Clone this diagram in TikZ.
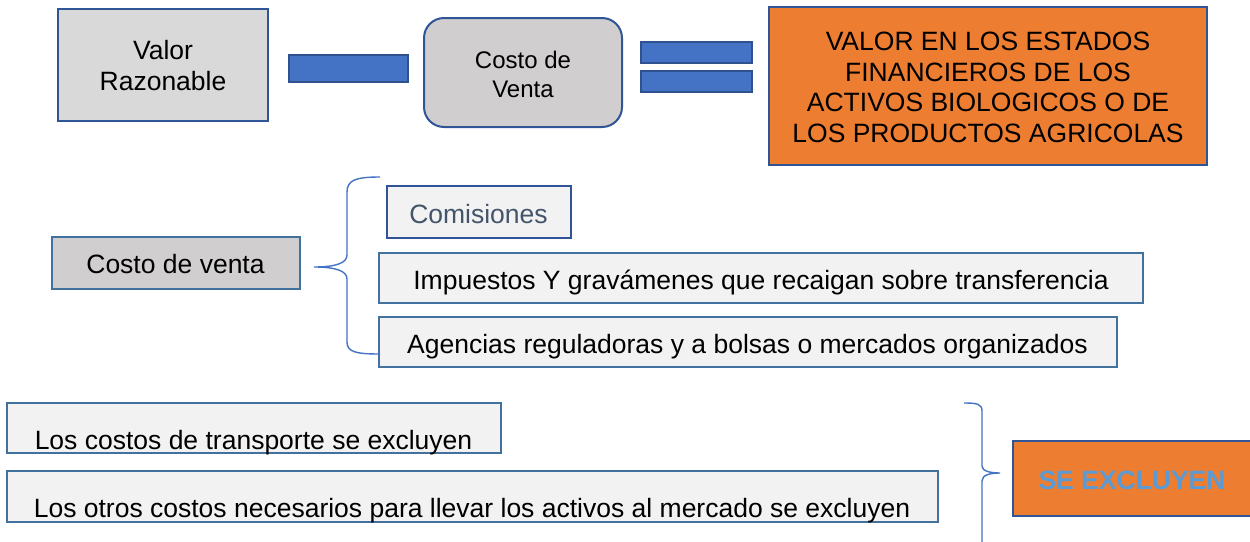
\documentclass[tikz,border=0pt]{standalone}
\usepackage{fontspec}
\setmainfont{Liberation Sans}
\definecolor{darkline}{HTML}{2F5597}
\definecolor{lightline}{HTML}{41719C}
\definecolor{barfill}{HTML}{4472C4}
\definecolor{barline}{HTML}{2F528F}
\definecolor{grayA}{HTML}{D9D9D9}
\definecolor{grayB}{HTML}{D0CECE}
\definecolor{paleF}{HTML}{F2F2F2}
\definecolor{orangeF}{HTML}{ED7D31}
\definecolor{slateT}{HTML}{44546A}
\definecolor{skyT}{HTML}{5B9BD5}
\definecolor{braceC}{HTML}{4472C4}
\tikzset{
  boxbase/.style={draw, rectangle, inner sep=0pt, outer sep=0pt},
  darkbox/.style={boxbase, draw=darkline, line width=2pt},
  lightbox/.style={boxbase, draw=lightline, line width=1.8pt, fill=paleF},
  barbox/.style={boxbase, draw=barline, line width=1.5pt, fill=barfill},
  txt/.style={anchor=base, inner sep=0pt, outer sep=0pt, font=\fontsize{26.5}{31}\selectfont},
  txtsmall/.style={txt, font=\fontsize{24}{29}\selectfont},
  bracestyle/.style={draw=braceC, line width=1.4pt}
}
\begin{document}
\begin{tikzpicture}[x=1pt,y=-1pt]
\useasboundingbox (0,0) rectangle (1250,541);
\clip (0,0) rectangle (1250,541);

% ---- top row ----
\node[darkbox, fill=grayA, minimum width=210pt, minimum height=112pt] (valor) at (163,65) {};
\node[txt] (valorA) at (163,59) {Valor};
\node[txt] (valorB) at (163,90) {Razonable};

\node[barbox, minimum width=119pt, minimum height=27pt] (minus) at (348.5,68.5) {};

\node[darkbox, fill=grayB, rounded corners=20pt, minimum width=198pt, minimum height=109pt] (costo) at (523,72.5) {};
\node[txtsmall] (costoA) at (523,68) {Costo de};
\node[txtsmall] (costoB) at (523,97) {Venta};

\node[barbox, minimum width=111pt, minimum height=21pt] (eqA) at (696.5,52.5) {};
\node[barbox, minimum width=111pt, minimum height=21pt] (eqB) at (696.5,81.5) {};

\node[darkbox, fill=orangeF, minimum width=438pt, minimum height=158pt] (valorEF) at (988,86) {};
\node[txt] (efA) at (988,50) {VALOR EN LOS ESTADOS};
\node[txt] (efB) at (988,81) {FINANCIEROS DE LOS};
\node[txt] (efC) at (988,111) {ACTIVOS BIOLOGICOS O DE};
\node[txt] (efD) at (988,142) {LOS PRODUCTOS AGRICOLAS};

% ---- middle ----
\node[boxbase, draw=lightline, line width=1.8pt, fill=grayB, minimum width=248pt, minimum height=52pt] (cv) at (176,263) {};
\node[txt] (cvT) at (175.5,273) {Costo de venta};

\node[lightbox, draw=darkline, line width=2pt, minimum width=184pt, minimum height=52pt] (com) at (479,212) {};
\node[txt, text=slateT] (comT) at (478.5,223) {Comisiones};

\node[lightbox, minimum width=764pt, minimum height=50pt] (imp) at (761,278) {};
\node[txt] (impT) at (761,289) {Impuestos Y gravámenes que recaigan sobre transferencia};

\node[lightbox, minimum width=738pt, minimum height=50pt] (age) at (748,342) {};
\node[txt] (ageT) at (747.5,353) {Agencias reguladoras y a bolsas o mercados organizados};

\coordinate (b1top) at (380,177);
\coordinate (b1tip) at (314,267);
\coordinate (b1bot) at (380,354);
\draw[bracestyle] (b1top) .. controls (356,177) and (347,180) .. (347,192)
  -- (347,255) .. controls (347,263) and (336,267) .. (b1tip)
  .. controls (336,267) and (347,271) .. (347,279)
  -- (347,342) .. controls (347,352) and (356,354) .. (b1bot);

% ---- bottom ----
\node[lightbox, minimum width=494pt, minimum height=50pt] (trans) at (254,428) {};
\node[txt] (transT) at (253.5,449) {Los costos de transporte se excluyen};

\node[lightbox, minimum width=931pt, minimum height=51pt] (otros) at (472.5,496.5) {};
\node[txt] (otrosT) at (472,517) {Los otros costos necesarios para llevar los activos al mercado se excluyen};

\coordinate (b2top) at (964,403);
\coordinate (b2tip) at (1000,473);
\coordinate (b2bot) at (982,548);
\draw[bracestyle] (b2top) .. controls (977,403) and (982,404) .. (982,411)
  -- (982,466) .. controls (982,471) and (990,473) .. (b2tip)
  .. controls (990,473) and (982,475) .. (982,481)
  -- (b2bot);

\node[darkbox, fill=orangeF, minimum width=238pt, minimum height=75pt] (excl) at (1132,478.5) {};
\node[txt, text=skyT, font=\fontsize{26.5}{31}\selectfont\bfseries] (exclT) at (1132,489) {SE EXCLUYEN};
\end{tikzpicture}
\end{document}
